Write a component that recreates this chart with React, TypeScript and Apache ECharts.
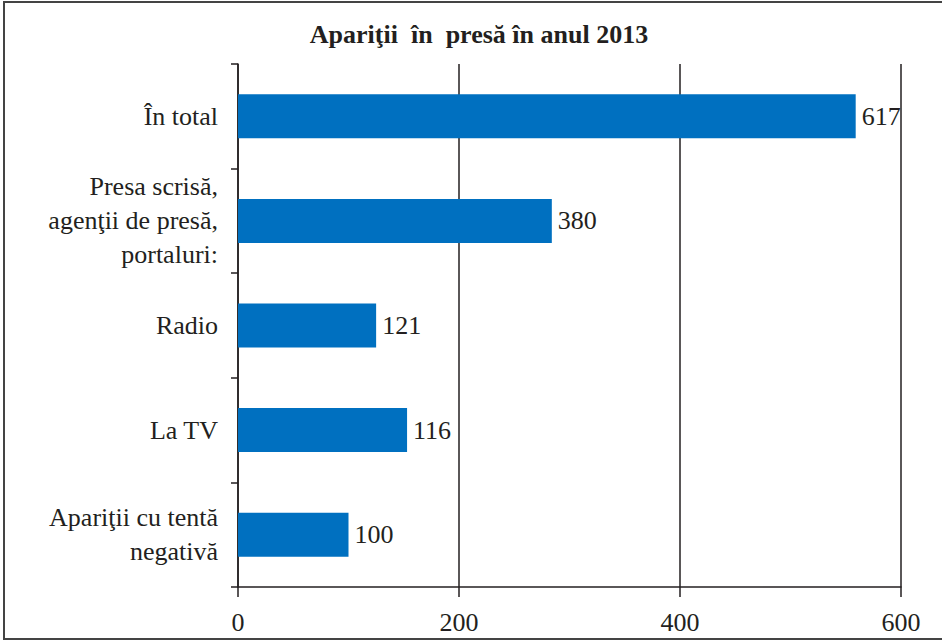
import React, { useEffect, useRef } from "react";
import * as echarts from "echarts";

const titleText = "Apariţii  în  presă în anul 2013";
const categories = [
  "În total",
  "Presa scrisă,\nagenţii de presă,\nportaluri:",
  "Radio",
  "La TV",
  "Apariţii cu tentă\nnegativă",
];
// bar lengths as drawn in the picture
const barValues = [559, 284, 125, 153, 100];
// numbers printed next to the bars
const printedLabels = ["617", "380", "121", "116", "100"];
const xTicks = { min: 0, max: 600, interval: 200 };

const FONT = "Liberation Serif";
const INK = "#231f20";

export default function App() {
  const ref = useRef<HTMLDivElement>(null);
  useEffect(() => {
    if (!ref.current) return;
    const chart = echarts.init(ref.current, undefined, { renderer: "svg" });
    chart.setOption({
      animation: false,
      backgroundColor: "#ffffff",
      textStyle: { fontFamily: FONT },
      title: {
        text: titleText,
        left: 474,
        top: 16,
        textAlign: "center",
        textStyle: { fontFamily: FONT, fontSize: 26, fontWeight: "bold", color: INK },
      },
      graphic: [
        {
          type: "rect",
          shape: { x: 4, y: 2, width: 950, height: 637 },
          style: { fill: "none", stroke: "#444", lineWidth: 2 },
          silent: true,
        },
      ],
      grid: { left: 238, right: 41, top: 64, bottom: 54, containLabel: false },
      xAxis: {
        type: "value",
        min: xTicks.min,
        max: xTicks.max,
        interval: xTicks.interval,
        axisLine: { show: true, lineStyle: { color: INK, width: 1.5 } },
        axisTick: { show: true, length: 10, lineStyle: { color: INK, width: 1.5 } },
        splitLine: { show: true, lineStyle: { color: INK, width: 1.5 } },
        axisLabel: { fontFamily: FONT, fontSize: 26, color: INK, margin: 22 },
      },
      yAxis: {
        type: "category",
        inverse: true,
        data: categories,
        axisLine: { show: true, lineStyle: { color: INK, width: 1.5 } },
        axisTick: { show: true, length: 7, lineStyle: { color: INK, width: 1.5 } },
        axisLabel: {
          fontFamily: FONT,
          fontSize: 26,
          color: INK,
          margin: 20,
          lineHeight: 34,
          align: "right",
        },
      },
      series: [
        {
          type: "bar",
          data: barValues,
          barWidth: 44,
          itemStyle: { color: "#0070c0" },
          label: {
            show: true,
            position: "right",
            distance: 6,
            fontFamily: FONT,
            fontSize: 26,
            color: INK,
            formatter: (p: any) => printedLabels[p.dataIndex],
          },
        },
      ],
    });
    return () => chart.dispose();
  }, []);
  return (
    <div
      ref={ref}
      style={{ position: "fixed", left: 0, top: 0, width: 942, height: 641 }}
    />
  );
}
